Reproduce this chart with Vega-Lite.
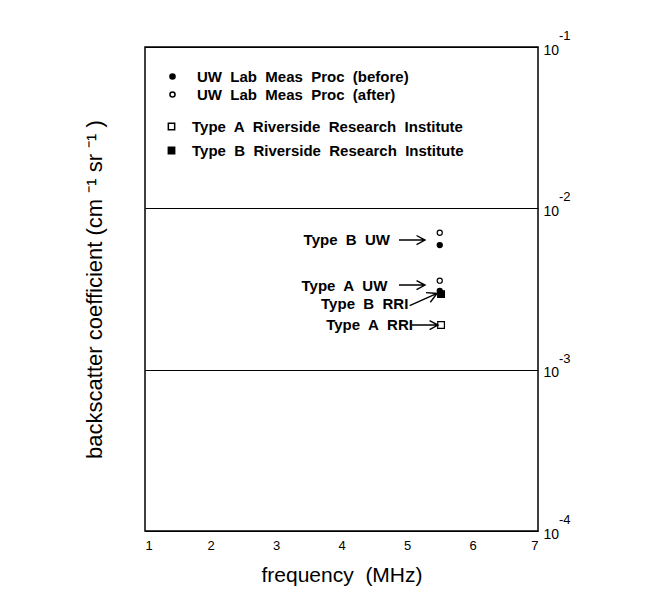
{
  "$schema": "https://vega.github.io/schema/vega-lite/v6.json",
  "width": 393,
  "height": 484,
  "autosize": {"type": "none"},
  "padding": {"left": 145, "top": 47, "right": 114, "bottom": 78},
  "background": "white",
  "config": {
    "view": {"stroke": "black", "strokeWidth": 1.5},
    "font": "Liberation Sans",
    "axis": {"labelColor": "black", "titleColor": "black"}
  },
  "datasets": {
    "uw": [
      {"series": "UW Lab Meas Proc (before)", "f": 5.5, "v": 0.00592},
      {"series": "UW Lab Meas Proc (after)", "f": 5.5, "v": 0.00706},
      {"series": "UW Lab Meas Proc (before)", "f": 5.5, "v": 0.00308},
      {"series": "UW Lab Meas Proc (after)", "f": 5.5, "v": 0.00356}
    ],
    "rri": [
      {"series": "Type A Riverside Research Institute", "f": 5.52, "v": 0.00189},
      {"series": "Type B Riverside Research Institute", "f": 5.52, "v": 0.00294}
    ],
    "notes": [
      {"label": "Type\u00a0 B\u00a0 UW", "f": 4.74, "v": 0.00636},
      {"label": "Type\u00a0 A\u00a0 UW", "f": 4.7, "v": 0.0033},
      {"label": "Type\u00a0 B\u00a0 RRI", "f": 5.02, "v": 0.00255},
      {"label": "Type\u00a0 A\u00a0 RRI", "f": 5.09, "v": 0.00189}
    ],
    "arrows": [
      {"f": 5.076, "v": 0.00636},
      {"f": 5.076, "v": 0.003345},
      {"f": 5.275, "v": 0.00189}
    ],
    "diag": [
      {"f": 5.25, "v": 0.00272}
    ],
    "decades": [
      {"v": 0.1, "e": "-1"},
      {"v": 0.01, "e": "-2"},
      {"v": 0.001, "e": "-3"},
      {"v": 0.0001, "e": "-4"}
    ]
  },
  "resolve": {
    "axis": {"y": "independent"},
    "scale": {"fill": "independent"},
    "legend": {"fill": "independent"}
  },
  "layer": [
    {
      "data": {"name": "uw"},
      "mark": {"type": "point", "shape": "circle", "filled": true, "size": 26, "stroke": "black", "strokeWidth": 1.2, "opacity": 1},
      "encoding": {
        "x": {
          "field": "f", "type": "quantitative",
          "scale": {"domain": [1, 7], "nice": false, "zero": false},
          "axis": {
            "values": [1, 2, 3, 4, 5, 6, 7], "format": "d",
            "grid": false, "ticks": false, "domain": false,
            "labelFontSize": 13, "labelPadding": 8,
            "title": "frequency\u00a0\u00a0(MHz)", "titleFontSize": 21, "titleFontWeight": "normal",
            "titlePadding": 12
          }
        },
        "y": {
          "field": "v", "type": "quantitative",
          "scale": {"type": "log", "domain": [0.0001, 0.1], "nice": false},
          "axis": {
            "orient": "left", "labels": false, "ticks": false, "domain": false, "grid": false,
            "title": "backscatter coefficient (cm\u00a0\u207b\u00b9\u00a0sr\u00a0\u207b\u00b9\u00a0)",
            "titleFontSize": 22, "titleFontWeight": "normal", "titlePadding": 39
          }
        },
        "fill": {
          "field": "series", "type": "nominal",
          "scale": {
            "domain": ["UW Lab Meas Proc (before)", "UW Lab Meas Proc (after)"],
            "range": ["black", "white"]
          },
          "legend": {
            "orient": "none", "legendX": 20, "legendY": 22, "title": null,
            "symbolType": "circle", "symbolSize": 26,
            "labelFont": "Liberation Sans", "labelFontWeight": "bold", "labelFontSize": 15,
            "labelColor": "black", "labelOffset": 17, "rowPadding": 2, "padding": 0, "labelLimit": 500,
            "labelExpr": "replace(datum.label, regexp(' ', 'g'), '\u00a0 ')",
            "encode": {"symbols": {"update": {"stroke": {"value": "black"}, "strokeWidth": {"value": 1.2}, "opacity": {"value": 1}}}}
          }
        }
      }
    },
    {
      "data": {"name": "rri"},
      "mark": {"type": "point", "shape": "square", "filled": true, "size": 45, "stroke": "black", "strokeWidth": 1.2, "opacity": 1},
      "encoding": {
        "x": {"field": "f", "type": "quantitative"},
        "y": {"field": "v", "type": "quantitative", "scale": {"type": "log", "domain": [0.0001, 0.1], "nice": false}, "axis": null},
        "fill": {
          "field": "series", "type": "nominal",
          "scale": {
            "domain": ["Type A Riverside Research Institute", "Type B Riverside Research Institute"],
            "range": ["white", "black"]
          },
          "legend": {
            "orient": "none", "legendX": 19, "legendY": 72, "title": null,
            "symbolType": "square", "symbolSize": 40,
            "labelFont": "Liberation Sans", "labelFontWeight": "bold", "labelFontSize": 15,
            "labelColor": "black", "labelOffset": 13, "rowPadding": 8, "padding": 0, "labelLimit": 500,
            "labelExpr": "replace(datum.label, regexp(' ', 'g'), '\u00a0 ')",
            "encode": {"symbols": {"update": {"stroke": {"value": "black"}, "strokeWidth": {"value": 1.2}, "opacity": {"value": 1}}}}
          }
        }
      }
    },
    {
      "data": {"name": "decades"},
      "mark": {"type": "text", "align": "left", "baseline": "middle", "dx": 21, "dy": -11, "fontSize": 13, "font": "Liberation Sans", "color": "black"},
      "encoding": {
        "x": {"datum": 7, "type": "quantitative"},
        "y": {
          "field": "v", "type": "quantitative",
          "scale": {"type": "log", "domain": [0.0001, 0.1], "nice": false},
          "axis": {
            "orient": "right", "values": [0.0001, 0.001, 0.01, 0.1],
            "labelExpr": "'10'", "labelFontSize": 14, "labelPadding": 5, "labelOffset": 3,
            "ticks": false, "domain": false,
            "grid": true, "gridColor": "black", "gridOpacity": 1, "gridWidth": 1.2,
            "title": null
          }
        },
        "text": {"field": "e"}
      }
    },
    {
      "data": {"name": "notes"},
      "mark": {"type": "text", "align": "right", "baseline": "middle", "fontSize": 15, "fontWeight": "bold", "font": "Liberation Sans", "color": "black"},
      "encoding": {
        "x": {"field": "f", "type": "quantitative"},
        "y": {"field": "v", "type": "quantitative", "scale": {"type": "log", "domain": [0.0001, 0.1], "nice": false}, "axis": null},
        "text": {"field": "label"}
      }
    },
    {
      "data": {"name": "arrows"},
      "mark": {"type": "point", "shape": "M -1 0 L 1 0 M 0.35 -0.35 L 1 0 L 0.35 0.35", "filled": false, "size": 676, "stroke": "black", "strokeWidth": 1.4, "opacity": 1},
      "encoding": {
        "x": {"field": "f", "type": "quantitative"},
        "y": {"field": "v", "type": "quantitative", "scale": {"type": "log", "domain": [0.0001, 0.1], "nice": false}, "axis": null}
      }
    },
    {
      "data": {"name": "diag"},
      "mark": {"type": "point", "shape": "M -1 0 L 1 0 M 0.35 -0.35 L 1 0 L 0.35 0.35", "filled": false, "size": 900, "angle": -24, "stroke": "black", "strokeWidth": 1.4, "opacity": 1},
      "encoding": {
        "x": {"field": "f", "type": "quantitative"},
        "y": {"field": "v", "type": "quantitative", "scale": {"type": "log", "domain": [0.0001, 0.1], "nice": false}, "axis": null}
      }
    }
  ]
}
